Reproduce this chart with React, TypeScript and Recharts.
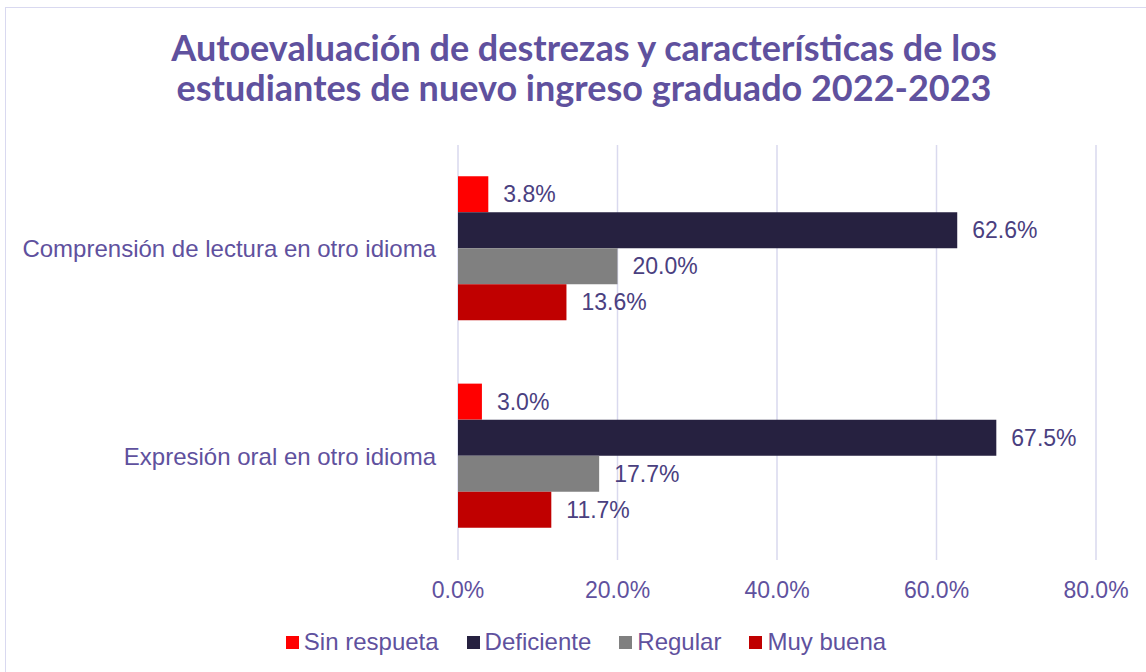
import React from 'react';
import { BarChart, Bar, XAxis, YAxis, CartesianGrid, Legend, LabelList } from 'recharts';

const categories = ['Comprensión de lectura en otro idioma', 'Expresión oral en otro idioma'];
const sinRespuesta = [0.038, 0.03];
const deficiente = [0.626, 0.675];
const regular = [0.2, 0.177];
const muyBuena = [0.136, 0.117];
const xTicks = [0, 0.2, 0.4, 0.6, 0.8];

const seriesDefs = [
  { key: 'sinRespuesta', name: 'Sin respueta', color: '#FF0000', values: sinRespuesta },
  { key: 'deficiente', name: 'Deficiente', color: '#262140', values: deficiente },
  { key: 'regular', name: 'Regular', color: '#808080', values: regular },
  { key: 'muyBuena', name: 'Muy buena', color: '#C00000', values: muyBuena },
];

const chartData = categories.map((name, i) => {
  const row: any = { name };
  seriesDefs.forEach(s => {
    row[s.key] = s.values[i];
  });
  return row;
});

const pct = (v: number) => `${(v * 100).toFixed(1)}%`;
const textColor = '#5F519E';
const labelColor = '#4A4080';
const font = '"Liberation Sans", Arial, sans-serif';

const LegendContent = () => (
  <div style={{ display: 'flex', justifyContent: 'center', alignItems: 'flex-end', height: 44, fontFamily: font, fontSize: 24, color: textColor, lineHeight: '26px', position: 'relative', top: 1, left: 38 }}>
    {seriesDefs.map(s => (
      <div key={s.key} style={{ display: 'flex', alignItems: 'center', margin: '0 14px' }}>
        <span style={{ width: 13, height: 13, background: s.color, display: 'inline-block', marginRight: 5 }} />
        <span>{s.name}</span>
      </div>
    ))}
  </div>
);

export default function App() {
  return (
    <div style={{ position: 'fixed', left: 0, top: 0, width: 1146, height: 672, background: '#fff', overflow: 'hidden' }}>
      <div style={{ position: 'absolute', left: 5, top: 7, width: 1200, height: 800, border: '1px solid #D9D9F0' }} />
      <div
        style={{
          position: 'absolute',
          left: 11,
          top: 27,
          width: 1146,
          textAlign: 'center',
          fontFamily: 'Lato, "DejaVu Sans", sans-serif',
          fontWeight: 700,
          fontSize: 36,
          lineHeight: '40px',
          color: textColor,
        }}
      >
        Autoevaluación de destrezas y características de los
        <br />
        estudiantes de nuevo ingreso graduado 2022-2023
      </div>
      <div style={{ position: 'absolute', left: 0, top: 0 }}>
        <BarChart
          width={1146}
          height={672}
          data={chartData}
          layout="vertical"
          margin={{ top: 145, right: 50, left: 0, bottom: 18 }}
          barCategoryGap="15%"
          barGap={0}
        >
          <CartesianGrid horizontal={false} stroke="#D9D9EE" strokeWidth={1.5} />
          <XAxis
            type="number"
            domain={[0, 0.8]}
            ticks={xTicks}
            tickFormatter={pct}
            axisLine={false}
            tickLine={false}
            tickMargin={16}
            height={50}
            tick={{ fill: textColor, fontSize: 23, fontFamily: font }}
          />
          <YAxis
            type="category"
            dataKey="name"
            width={458}
            axisLine={false}
            tickLine={false}
            tickMargin={16}
            tick={{ fill: textColor, fontSize: 24, fontFamily: font }}
          />
          <Legend verticalAlign="bottom" height={44} content={<LegendContent />} />
          {seriesDefs.map(s => (
            <Bar key={s.key} dataKey={s.key} name={s.name} fill={s.color} isAnimationActive={false}>
              <LabelList
                dataKey={s.key}
                position="right"
                offset={15}
                formatter={(v: any) => pct(Number(v))}
                style={{ fill: labelColor, fontSize: 23, fontFamily: font }}
              />
            </Bar>
          ))}
        </BarChart>
      </div>
    </div>
  );
}
